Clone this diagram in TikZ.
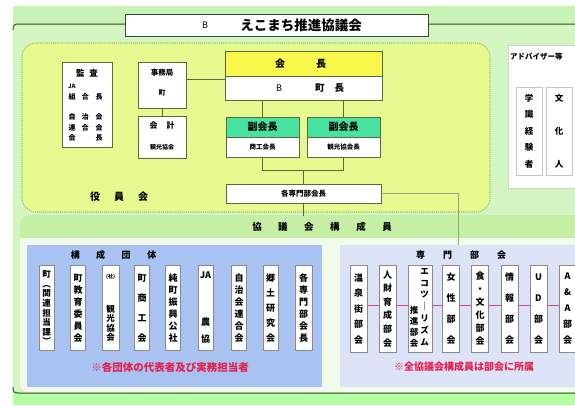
\documentclass[tikz,border=0pt]{standalone}
\usepackage{fontspec}
\newfontfamily\jp{Noto Sans CJK JP}
\definecolor{outerg}{HTML}{D3F5C2}
\definecolor{topg}{HTML}{C8F3B4}
\definecolor{yelreg}{HTML}{E6F98E}
\definecolor{yelhd}{HTML}{F8F84C}
\definecolor{mint}{HTML}{45E2A0}
\definecolor{bluep}{HTML}{A8C3F2}
\definecolor{lavp}{HTML}{DCE3F7}
\definecolor{bandg}{HTML}{C6EFA6}
\definecolor{bodyw}{HTML}{F2FAEC}
\definecolor{botg}{HTML}{B3FDA3}
\definecolor{boxc}{HTML}{5C6840}
\definecolor{vbc}{HTML}{8A8A8A}
\definecolor{redt}{HTML}{E5204C}
\definecolor{pinkl}{HTML}{C8507A}
\definecolor{dotc}{HTML}{9CC46A}
\definecolor{thinc}{HTML}{8FA67A}
\definecolor{darkc}{HTML}{3A4A30}
\newcommand\vf[2]{\jp\bfseries\fontsize{#1}{#2}\selectfont}
\tikzset{
  topbox/.style={draw=boxc, line width=0.8pt, inner sep=0pt, fill=white},
  conn/.style={draw=boxc, line width=0.8pt},
  vbox/.style={draw=vbc, fill=white, line width=0.7pt, inner sep=0pt, minimum width=15pt, minimum height=85pt, anchor=north, align=center},
  rbox/.style={vbox, minimum width=17pt, minimum height=87pt},
  lbl/.style={inner sep=0pt, font=\vf{#1}{#1}},
  lbl/.default=8,
  vtxt/.style={inner sep=0pt, align=center, anchor=north},
}
\begin{document}
\begin{tikzpicture}[x=1pt,y=-1pt]
\useasboundingbox (0,0) rectangle (575,405);
\clip (0,0) rectangle (575,405);
\fill[white] (0,0) rectangle (575,405);
% outer frame
\fill[outerg] (13,6) rectangle (575,393);
\fill[topg] (13,6) rectangle (575,24);
\fill[botg] (13,393) rectangle (575,405);
\draw[darkc, line width=1pt] (13,30) .. controls (13,25) and (14,24) .. (19,24) -- (575,24);
\draw[darkc, line width=1pt] (13,387) .. controls (13,392) and (14,393) .. (19,393) -- (575,393);
\node[draw=darkc, line width=1pt, fill=white, minimum width=303pt, minimum height=22pt, inner sep=0pt] (title) at (276.5,25) {};
\node[inner sep=0pt, font=\jp\fontsize{9}{9}\selectfont] (titleB) at (205,25) {B};
\node[lbl=13.5] (titleT) at (301,25) {えこまち推進協議会};

% yellow officers region
\draw[dotc, densely dotted, line width=1.1pt, fill=yelreg, rounded corners=14pt] (22,43) rectangle (490,212);

% adviser
\node[draw=gray!35, fill=white, line width=0.6pt, anchor=north west, minimum width=80pt, minimum height=143pt, inner sep=0pt] (adv) at (508,45) {};
\node[lbl=7.5, anchor=west] (advT) at (510,57) {アドバイザー等};
\node[draw=gray!45, fill=white, line width=0.6pt, minimum width=26pt, minimum height=88pt, inner sep=0pt, align=center, font=\vf{8.5}{16.5}] (gaku) at (529,131) {学\\識\\経\\験\\者};
\node[draw=gray!45, fill=white, line width=0.6pt, minimum width=26pt, minimum height=88pt, inner sep=0pt, align=center, font=\vf{8.5}{33}] (bunka) at (559,131) {文\\化\\人};

% kansa
\node[topbox, minimum width=50pt, minimum height=85pt] (kansa) at (87,104.5) {};
\node[lbl=8.5] (ksT) at (87,73) {監\hspace{5pt}査};
\node[lbl=6, anchor=west] (ksJA) at (68,86) {JA};
\node[lbl=7] (ks1) at (85.5,97) {組\hspace{6.5pt}合\hspace{6.5pt}長};
\node[lbl=7] (ks2) at (85.5,117) {自\hspace{6.5pt}治\hspace{6.5pt}会};
\node[lbl=7] (ks3) at (85.5,127.5) {連\hspace{6.5pt}合\hspace{6.5pt}会};
\node[lbl=7] (ks4) at (85.5,138) {会\hspace{20pt}長};

% jimukyoku / kaikei
\node[topbox, minimum width=48pt, minimum height=46pt] (jimu) at (162,85) {};
\node[lbl=7.5] (jimuT) at (162,73) {事務局};
\node[lbl=7] (jimuM) at (162,93) {町};
\node[topbox, minimum width=48pt, minimum height=42pt] (kaikei) at (162,137) {};
\node[lbl=8] (kaikeiT) at (162,125) {会\hspace{9pt}計};
\node[lbl=6] (kaikeiM) at (162,147) {観光協会};

% kaicho
\node[topbox, fill=yelhd, minimum width=157pt, minimum height=25pt] (kaichoH) at (303.5,63.5) {};
\node[lbl=10] (kaichoT) at (300.5,63.5) {会\hspace{31pt}長};
\node[topbox, minimum width=157pt, minimum height=24pt] (kaichoB) at (303.5,88) {};
\node[inner sep=0pt, font=\jp\fontsize{9}{9}\selectfont, anchor=west] (kaichoB1) at (276,88) {B};
\node[lbl=9.5, anchor=west] (kaichoB2) at (315,88) {町\hspace{10pt}長};

% fuku kaicho
\node[topbox, fill=mint, minimum width=73pt, minimum height=20pt] (fuku1H) at (262.5,127) {};
\node[lbl=10] (fuku1T) at (262.5,127) {副会長};
\node[topbox, minimum width=73pt, minimum height=20pt] (fuku1B) at (262.5,147) {};
\node[lbl=6.5] (fuku1M) at (262.5,147) {商工会長};
\node[topbox, fill=mint, minimum width=73pt, minimum height=20pt] (fuku2H) at (343.5,127) {};
\node[lbl=10] (fuku2T) at (343.5,127) {副会長};
\node[topbox, minimum width=73pt, minimum height=20pt] (fuku2B) at (343.5,147) {};
\node[lbl=6.5] (fuku2M) at (343.5,147) {観光協会長};

% senmon bukaicho
\node[topbox, minimum width=155pt, minimum height=19pt, font=\vf{7.5}{7.5}] (senmon) at (303.5,193.5) {各専門部会長};

\node[lbl=10] (yakuin) at (119,197) {役\hspace{14pt}員\hspace{14pt}会};

% connectors upper
\draw[conn] (jimu.south) -- (kaikei.north);
\draw[conn] (jimu.east |- 0,79) -- (kaichoB.west |- 0,79);
\draw[conn] (kaichoB.south -| fuku1H.north) -- (fuku1H.north);
\draw[conn] (kaichoB.south -| fuku2H.north) -- (fuku2H.north);
\draw[conn] (fuku1B.south) -- ++(0,13) -| (fuku2B.south);
\draw[conn] (senmon.north) -- (senmon.north |- 0,170);

% lower container
\begin{scope}
\clip[rounded corners=8pt] (20,215) rectangle (600,392);
\fill[bodyw] (20,215) rectangle (600,392);
\fill[bandg] (20,215) rectangle (600,238);
\end{scope}
\node[lbl=9.5] (bandT) at (322,227) {協\hspace{16.5pt}議\hspace{16.5pt}会\hspace{16.5pt}構\hspace{16.5pt}成\hspace{16.5pt}員};
\coordinate (bandTop) at (303.5,216);
\draw[conn] (senmon.south) -- (bandTop);

% panels
\node[fill=bluep, anchor=north west, minimum width=295pt, minimum height=142pt, inner sep=0pt] (kosei) at (27,245) {};
\node[fill=lavp, anchor=north west, minimum width=250pt, minimum height=142pt, inner sep=0pt] (senP) at (340,245) {};
\coordinate (senPin) at (458,245);
\draw[thinc, line width=0.6pt] (senmon.east) -| (senPin);

\node[lbl=9] (koseiT) at (113.5,255) {構\hspace{16.5pt}成\hspace{16.5pt}団\hspace{16.5pt}体};
\node[lbl=9] (senPT) at (461,255) {専\hspace{18pt}門\hspace{18pt}部\hspace{18pt}会};

% kosei dantai members
\node[vbox, font=\vf{8.5}{9.6}] (m1) at (46.5,265) {町\\︵\\関\\連\\担\\当\\課\\︶};
\node[vbox, font=\vf{9}{12}] (m2) at (78,265) {町\\教\\育\\委\\員\\会};
\node[vbox, minimum width=17pt, font=\vf{8.5}{9.5}] (m3) at (110.5,265) {{\fontsize{5}{5}\selectfont (社)}\\[24pt]観\\光\\協\\会};
\node[vbox, font=\vf{9}{20}] (m4) at (142,265) {町\\商\\工\\会};
\node[vbox, font=\vf{9}{12}] (m5) at (173,265) {純\\町\\振\\興\\公\\社};
\node[vbox, font=\vf{9}{17}] (m6) at (205.5,265) {JA\\[30pt]農\\協};
\node[vbox, font=\vf{9}{12}] (m7) at (239,265) {自\\治\\会\\連\\合\\会};
\node[vbox, font=\vf{9}{15}] (m8) at (270.5,265) {郷\\土\\研\\究\\会};
\node[vbox, minimum width=17pt, font=\vf{9}{12}] (m9) at (303.5,265) {各\\専\\門\\部\\会\\長};
\node[inner sep=0pt, font=\vf{10.5}{10.5}, text=redt] (koseiN) at (170,367) {※各団体の代表者及び実務担当者};

% senmon bukai members
\node[rbox, font=\vf{9}{15.5}] (r1) at (358.5,265) {温\\泉\\街\\部\\会};
\node[rbox, font=\vf{9}{13.6}] (r2) at (387.5,265) {人\\財\\育\\成\\部\\会};
\node[rbox, minimum width=24pt] (r3) at (420,265) {};
\node[vtxt, font=\vf{8.5}{11.8}] (r3a) at (424.5,268) {エ\\コ\\ツ\\｜\\リ\\ズ\\ム};
\node[vtxt, font=\vf{8.5}{11}] (r3b) at (414,306) {推\\進\\部\\会};
\node[rbox, font=\vf{9}{21}] (r4) at (451,265) {女\\性\\部\\会};
\node[rbox, font=\vf{9}{13}] (r5) at (480,265) {食\\・\\文\\化\\部\\会};
\node[rbox, font=\vf{9}{21}] (r6) at (509.5,265) {情\\報\\部\\会};
\node[rbox, font=\vf{9}{21}] (r7) at (538.5,265) {U\\D\\部\\会};
\node[rbox, font=\vf{9}{16}] (r8) at (567.5,265) {A\\\&\\A\\部\\会};
\foreach \a/\b in {r1/r2,r2/r3,r3/r4,r4/r5,r5/r6,r6/r7,r7/r8}
  \draw[pinkl, line width=0.8pt] (\a.east |- 0,305) -- (\b.west |- 0,305);
\node[inner sep=0pt, font=\vf{10}{10}, text=redt] (senN) at (464,367) {※全協議会構成員は部会に所属};
\end{tikzpicture}
\end{document}
